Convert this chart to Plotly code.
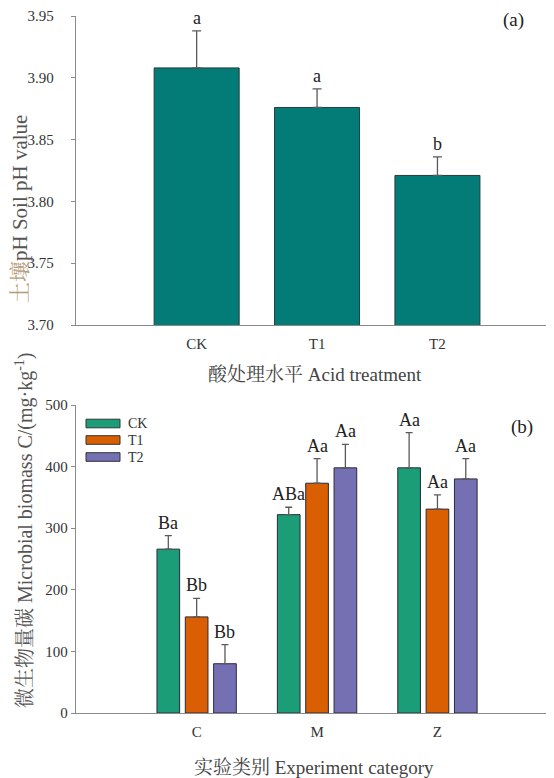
import plotly.graph_objects as go

# ---------------- data ----------------
ph_categories = ["CK", "T1", "T2"]
ph_values = [3.908, 3.876, 3.821]
ph_errors = [0.030, 0.015, 0.015]
ph_letters = ["a", "a", "b"]

mbc_categories = ["C", "M", "Z"]
mbc_series = ["CK", "T1", "T2"]
mbc_ck = [266, 322, 398]
mbc_t1 = [156, 373, 331]
mbc_t2 = [80, 398, 380]
mbc_ck_err = [22, 12, 57]
mbc_t1_err = [30, 40, 23]
mbc_t2_err = [31, 38, 33]
mbc_ck_letters = ["Ba", "ABa", "Aa"]
mbc_t1_letters = ["Bb", "Aa", "Aa"]
mbc_t2_letters = ["Bb", "Aa", "Aa"]

# ---------------- style ----------------
FONT = "Liberation Serif, Times New Roman, Noto Serif CJK SC, Noto Sans CJK SC, serif"
TEAL = "#037c78"
COLORS = ["#1b9e77", "#d95f02", "#7570b3"]
AXIS_COL = "#8a8a8a"
TXT = "#333333"
ERR_COL = "#5a5a5a"

BARGAP = 0.294
BARGROUPGAP = 0.2
XR = [-1.002, 2.968]

OFF = 8  # page body offset
W, H = 554 - OFF, 778 - OFF
ML, MR, MT, MB = 76 - OFF, 0, 16 - OFF, 65

fig = go.Figure()

# top panel
fig.add_trace(go.Bar(
    x=list(range(len(ph_categories))), y=ph_values,
    width=1 - BARGAP,
    marker=dict(color=TEAL, line=dict(color="#2a3a3a", width=1)),
    error_y=dict(type="data", array=ph_errors, arrayminus=[0] * len(ph_errors),
                 symmetric=False, color=ERR_COL, thickness=1.3, width=4.5),
    xaxis="x", yaxis="y", showlegend=False, hoverinfo="skip",
))

# bottom panel
series_vals = [mbc_ck, mbc_t1, mbc_t2]
series_errs = [mbc_ck_err, mbc_t1_err, mbc_t2_err]
series_letters = [mbc_ck_letters, mbc_t1_letters, mbc_t2_letters]
for name, vals, errs, col in zip(mbc_series, series_vals, series_errs, COLORS):
    fig.add_trace(go.Bar(
        name=name, x=list(range(len(mbc_categories))), y=vals,
        marker=dict(color=col, line=dict(color="#2a2a3a", width=1)),
        error_y=dict(type="data", array=errs, arrayminus=[0] * len(errs),
                     symmetric=False, color=ERR_COL, thickness=1.3, width=3.5),
        xaxis="x2", yaxis="y2", showlegend=False, hoverinfo="skip",
    ))

annotations = []
# top letters
for i, (v, e, t) in enumerate(zip(ph_values, ph_errors, ph_letters)):
    annotations.append(dict(x=i, y=v + e, xref="x", yref="y", text=t,
                            showarrow=False, yanchor="bottom", yshift=1,
                            font=dict(family=FONT, size=18, color="#222")))
# bottom letters
slot = (1 - BARGAP) / len(mbc_series)
for k, (vals, errs, lets) in enumerate(zip(series_vals, series_errs, series_letters)):
    off = (k - (len(mbc_series) - 1) / 2) * slot
    for i, (v, e, t) in enumerate(zip(vals, errs, lets)):
        annotations.append(dict(x=i + off, y=v + e, xref="x2", yref="y2", text=t,
                                showarrow=False, yanchor="bottom", yshift=1,
                                font=dict(family=FONT, size=18, color="#222")))

pw = W - ML - MR
ph = H - MT - MB
def px(x):  # screen pixel -> paper
    return (x - OFF - ML) / pw
def py(y):
    return (H - MB - (y - OFF)) / ph

# panel labels
annotations.append(dict(x=px(513), y=py(20), xref="paper", yref="paper", text="(a)",
                        showarrow=False, xanchor="center", yanchor="middle",
                        font=dict(family=FONT, size=19, color="#222")))
annotations.append(dict(x=px(522), y=py(427), xref="paper", yref="paper", text="(b)",
                        showarrow=False, xanchor="center", yanchor="middle",
                        font=dict(family=FONT, size=19, color="#222")))

# axis titles
annotations.append(dict(x=px(315), y=py(374), xref="paper", yref="paper",
                        text="酸处理水平 Acid treatment", showarrow=False,
                        xanchor="center", yanchor="middle",
                        font=dict(family=FONT, size=19, color="#444")))
annotations.append(dict(x=px(314), y=py(767), xref="paper", yref="paper",
                        text="实验类别 Experiment category", showarrow=False,
                        xanchor="center", yanchor="middle",
                        font=dict(family=FONT, size=19, color="#444")))
annotations.append(dict(x=px(20), y=py(209), xref="paper", yref="paper", textangle=-90,
                        text="<span style='color:#b59b78'>土壤</span>pH Soil pH value",
                        showarrow=False, xanchor="center", yanchor="middle",
                        font=dict(family=FONT, size=21, color="#555")))
annotations.append(dict(x=px(24), y=py(530), xref="paper", yref="paper", textangle=-90,
                        text="微生物量碳 Microbial biomass C/(mg·kg<sup>-1</sup>)",
                        showarrow=False, xanchor="center", yanchor="middle",
                        font=dict(family=FONT, size=20, color="#555")))

# manual legend
shapes = []
leg_y = [423.5, 440, 457]
for name, col, yy in zip(mbc_series, COLORS, leg_y):
    shapes.append(dict(type="rect", xref="paper", yref="paper",
                       x0=px(86), x1=px(120), y0=py(yy + 4.3), y1=py(yy - 4.3),
                       fillcolor=col, line=dict(color="#333", width=1)))
    annotations.append(dict(x=px(126), y=py(yy), xref="paper", yref="paper", text=name,
                            showarrow=False, xanchor="left", yanchor="middle",
                            font=dict(family=FONT, size=14, color=TXT)))

top_dom = [py(325), 1.0]
bot_dom = [0.0, py(405)]

common_x = dict(range=XR, tickvals=list(range(3)), showline=True, linecolor=AXIS_COL,
                linewidth=1.3, ticks="", showgrid=False, zeroline=False,
                ticklabelstandoff=5,
                tickfont=dict(family=FONT, size=15, color=TXT))
common_y = dict(showline=True, linecolor=AXIS_COL, linewidth=1.3, ticks="outside",
                ticklen=4, tickcolor=AXIS_COL, tickwidth=1.3, showgrid=False,
                zeroline=False, tickfont=dict(family=FONT, size=15, color=TXT))

fig.update_layout(
    width=W, height=H,
    margin=dict(l=ML, r=MR, t=MT, b=MB, autoexpand=False),
    paper_bgcolor="white", plot_bgcolor="white",
    barmode="group", bargap=BARGAP, bargroupgap=BARGROUPGAP,
    showlegend=False,
    xaxis=dict(**common_x, domain=[0, 1], anchor="y", ticktext=ph_categories),
    yaxis=dict(**common_y, domain=top_dom, anchor="x", range=[3.70, 3.95],
               tickvals=[3.70, 3.75, 3.80, 3.85, 3.90, 3.95], tickformat=".2f",
               ticklabelstandoff=14),
    xaxis2=dict(**common_x, domain=[0, 1], anchor="y2", ticktext=mbc_categories),
    yaxis2=dict(**common_y, domain=bot_dom, anchor="x2", range=[0, 500],
                tickvals=[0, 100, 200, 300, 400, 500]),
    annotations=annotations,
    shapes=shapes,
)

fig.write_html("out.html")
